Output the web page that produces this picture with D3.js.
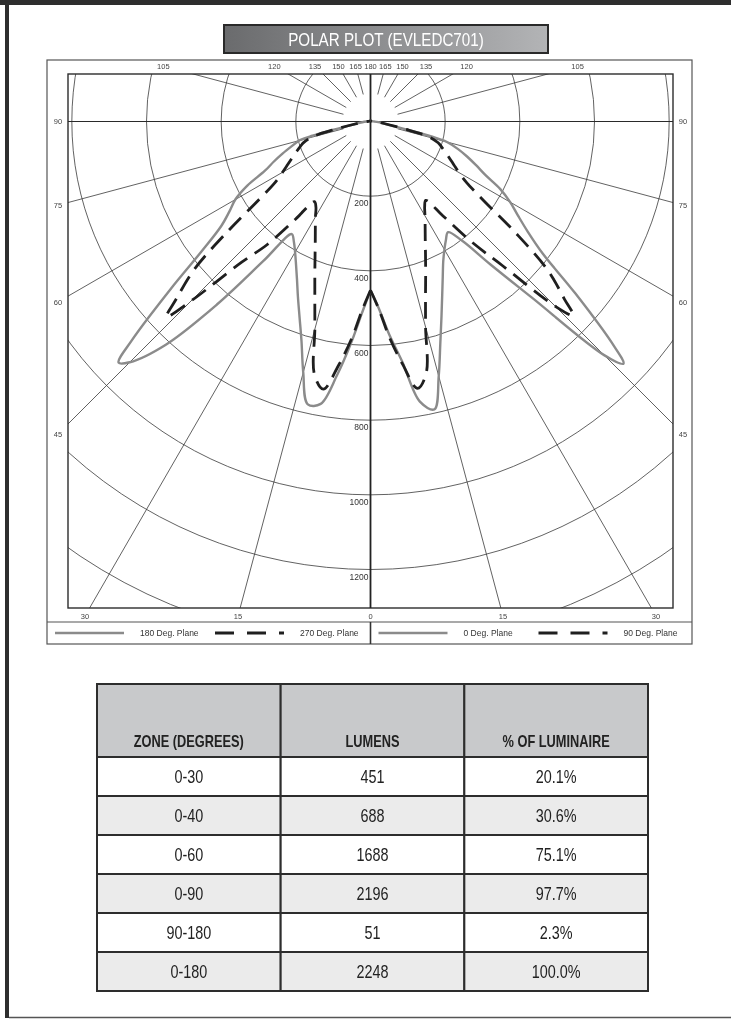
<!DOCTYPE html>
<html lang="en">
<head>
<meta charset="UTF-8">
<title>Polar Plot (EVLEDC701)</title>
<style>
  body { margin: 0; background: #fff; }
  svg { display: block; will-change: transform; }
</style>
</head>
<body>
<div id="chart"></div>
<script src="https://d3js.org/d3.v7.min.js"></script>
<script>
// vertical angle from nadir (deg) for every candela reading below
const angles = [0, 2.5, 5, 7.5, 10, 12.5, 15, 17.5, 20, 22.5, 25, 27.5, 30, 32.5, 35, 37.5, 40, 42.5, 45, 46.25,
  47.5, 50, 52.5, 55, 57.5, 60, 62.5, 65, 67.5, 70, 72.5, 75, 76.25, 77.5, 80, 85, 90, 95, 105, 120, 135, 150, 165, 180];

// candela per plane
const plane0 = [452, 500, 572, 648, 762, 790, 706, 622, 556, 502, 458, 422, 396, 376, 362, 402, 500, 640, 885, 938,
  876, 716, 582, 514, 468, 432, 392, 340, 306, 276, 246, 212, 168, 92, 46, 21, 10, 6, 4, 3, 2, 2, 2, 2];
const plane90 = [452, 502, 580, 655, 726, 690, 570, 490, 432, 385, 347, 317, 292, 270, 258, 318, 420, 525, 700, 752,
  705, 620, 490, 372, 306, 274, 252, 234, 218, 204, 190, 166, 142, 98, 50, 20, 9, 5, 3, 2, 2, 2, 2, 2];
const plane180 = [452, 512, 595, 685, 768, 776, 696, 615, 556, 508, 466, 432, 404, 382, 368, 470, 640, 810, 912, 934,
  866, 700, 568, 488, 448, 418, 372, 312, 280, 250, 222, 198, 160, 98, 48, 22, 11, 6, 4, 3, 2, 2, 2, 2];
const plane270 = [452, 505, 585, 660, 728, 694, 576, 496, 436, 388, 350, 320, 295, 272, 262, 330, 430, 512, 680, 757,
  708, 616, 478, 365, 302, 272, 250, 232, 216, 202, 188, 164, 140, 96, 50, 20, 9, 5, 3, 2, 2, 2, 2, 2];

// grid
const ringValues = [200, 400, 600, 800, 1000, 1200, 1400];
const ringLabels = [200, 400, 600, 800, 1000, 1200];
const spokeAngles = [15, 30, 45, 60, 75, 105, 120, 135, 150, 165];
const topLabels = [105, 120, 135, 150, 165];
const sideLabels = [90, 75, 60, 45];
const bottomLabels = [15, 30];

const legendNames = ["180 Deg. Plane", "270 Deg. Plane", "0 Deg. Plane", "90 Deg. Plane"];

// zonal lumen table
const tableHeaders = ["ZONE (DEGREES)", "LUMENS", "% OF LUMINAIRE"];
const zones = ["0-30", "0-40", "0-60", "0-90", "90-180", "0-180"];
const lumens = [451, 688, 1688, 2196, 51, 2248];
const percents = ["20.1%", "30.6%", "75.1%", "97.7%", "2.3%", "100.0%"];

const W = 731, H = 1026;
const FONT = "'Liberation Sans', Arial, sans-serif";
const SQUEEZE = 0.8; // no narrow face installed, so squeeze Liberation Sans

const svg = d3.select("#chart").append("svg")
  .attr("width", W)
  .attr("height", H);

// page edges
svg.append("rect").attr("x", 0).attr("y", 0).attr("width", W).attr("height", 5).attr("fill", "#2e2e2e");
svg.append("rect").attr("x", 5).attr("y", 0).attr("width", 4).attr("height", 1018).attr("fill", "#2e2e2e");
svg.append("line").attr("x1", 9).attr("x2", W).attr("y1", 1017.5).attr("y2", 1017.5)
  .attr("stroke", "#555").attr("stroke-width", 1.5);

// title
const defs = svg.append("defs");
const grad = defs.append("linearGradient").attr("id", "titleGrad")
  .attr("x1", 0).attr("x2", 1).attr("y1", 0).attr("y2", 0);
grad.append("stop").attr("offset", "0%").attr("stop-color", "#6a6b6d");
grad.append("stop").attr("offset", "100%").attr("stop-color", "#b3b4b6");

svg.append("rect")
  .attr("x", 224).attr("y", 25).attr("width", 324).attr("height", 28)
  .attr("fill", "url(#titleGrad)")
  .attr("stroke", "#2a2a2a").attr("stroke-width", 2);
svg.append("text")
  .attr("transform", `translate(386,46) scale(${SQUEEZE},1)`)
  .attr("text-anchor", "middle")
  .attr("font-family", FONT)
  .attr("font-size", "19px")
  .attr("fill", "#fff")
  .text("POLAR PLOT (EVLEDC701)");

// ---------- polar plot ----------
const box = { x0: 47, x1: 692, y0: 60, y1: 644 };
const frame = { x0: 68, x1: 673, y0: 74, y1: 608 };
const legendTop = 622;
const cx = 370.5, cy = 121.5;

const r = d3.scaleLinear().domain([0, 1200]).range([0, 448]);
const rad = d => d * Math.PI / 180;

// point at vertical angle a (from nadir), radius px, side -1 left / +1 right
function pt(a, px, side) {
  return [cx + side * px * Math.sin(rad(a)), cy + px * Math.cos(rad(a))];
}

defs.append("clipPath").attr("id", "frameClip")
  .append("rect")
  .attr("x", frame.x0).attr("y", frame.y0)
  .attr("width", frame.x1 - frame.x0).attr("height", frame.y1 - frame.y0);

svg.append("rect")
  .attr("x", box.x0).attr("y", box.y0)
  .attr("width", box.x1 - box.x0).attr("height", box.y1 - box.y0)
  .attr("fill", "none").attr("stroke", "#555").attr("stroke-width", 1.2);

const grid = svg.append("g").attr("clip-path", "url(#frameClip)");

grid.selectAll(".ring")
  .data(ringValues)
  .enter().append("circle")
  .attr("class", "ring")
  .attr("cx", cx).attr("cy", cy)
  .attr("r", d => r(d))
  .attr("fill", "none")
  .attr("stroke", "#3a3a3a")
  .attr("stroke-width", 0.8);

const spokes = [];
[-1, 1].forEach(side => spokeAngles.forEach(a => spokes.push({ a, side })));
grid.selectAll(".spoke")
  .data(spokes)
  .enter().append("line")
  .attr("class", "spoke")
  .attr("x1", d => pt(d.a, r(75), d.side)[0])
  .attr("y1", d => pt(d.a, r(75), d.side)[1])
  .attr("x2", d => pt(d.a, 900, d.side)[0])
  .attr("y2", d => pt(d.a, 900, d.side)[1])
  .attr("stroke", "#3a3a3a")
  .attr("stroke-width", 0.8);

// 90 deg line
grid.append("line")
  .attr("x1", frame.x0).attr("x2", frame.x1)
  .attr("y1", cy).attr("y2", cy)
  .attr("stroke", "#2a2a2a").attr("stroke-width", 1.1);

svg.append("rect")
  .attr("x", frame.x0).attr("y", frame.y0)
  .attr("width", frame.x1 - frame.x0).attr("height", frame.y1 - frame.y0)
  .attr("fill", "none").attr("stroke", "#2d2d2d").attr("stroke-width", 1.4);

// legend row
svg.append("line")
  .attr("x1", box.x0).attr("x2", box.x1)
  .attr("y1", legendTop).attr("y2", legendTop)
  .attr("stroke", "#555").attr("stroke-width", 1.2);

// 0-180 axis and the legend divider under it
svg.append("line")
  .attr("x1", cx).attr("x2", cx)
  .attr("y1", frame.y0).attr("y2", frame.y1)
  .attr("stroke", "#222").attr("stroke-width", 1.8);
svg.append("line")
  .attr("x1", cx).attr("x2", cx)
  .attr("y1", legendTop).attr("y2", box.y1)
  .attr("stroke", "#333").attr("stroke-width", 1.6);

// ring labels
svg.selectAll(".ringLabel")
  .data(ringLabels)
  .enter().append("text")
  .attr("class", "ringLabel")
  .attr("x", cx - 2)
  .attr("y", d => cy + r(d) + 10)
  .attr("text-anchor", "end")
  .attr("font-family", FONT)
  .attr("font-size", "8.5px")
  .attr("fill", "#333")
  .text(d => d);

// angle labels
const angLabels = [];
const topY = frame.y0 - 8, sideOff = 10, botY = frame.y1 + 8;
[-1, 1].forEach(side => {
  topLabels.forEach(a => {
    const t = (topY - cy) / Math.cos(rad(a));
    angLabels.push({ text: a, x: cx + side * t * Math.sin(rad(a)), y: topY });
  });
  sideLabels.forEach(a => {
    const xs = side < 0 ? frame.x0 - sideOff : frame.x1 + sideOff;
    const t = Math.abs(xs - cx) / Math.sin(rad(a));
    angLabels.push({ text: a, x: xs, y: cy + t * Math.cos(rad(a)) });
  });
  bottomLabels.forEach(a => {
    const t = (botY - cy) / Math.cos(rad(a));
    angLabels.push({ text: a, x: cx + side * t * Math.sin(rad(a)), y: botY });
  });
});
angLabels.push({ text: 180, x: cx, y: topY });
angLabels.push({ text: 0, x: cx, y: botY });

svg.selectAll(".angLabel")
  .data(angLabels)
  .enter().append("text")
  .attr("class", "angLabel")
  .attr("x", d => d.x)
  .attr("y", d => d.y)
  .attr("dy", "0.35em")
  .attr("text-anchor", "middle")
  .attr("font-family", FONT)
  .attr("font-size", "7.5px")
  .attr("fill", "#444")
  .text(d => d.text);

// candela curves
const line = d3.line().curve(d3.curveCatmullRom.alpha(0.5));
const planes = [
  { vals: plane180, side: -1, dashed: false },
  { vals: plane0, side: 1, dashed: false },
  { vals: plane270, side: -1, dashed: true },
  { vals: plane90, side: 1, dashed: true }
];

const GRAY = "#8b8b8b", DARK = "#1f1f1f";

svg.append("g").attr("clip-path", "url(#frameClip)")
  .selectAll(".curve")
  .data(planes)
  .enter().append("path")
  .attr("class", "curve")
  .attr("d", p => line(angles.map((a, i) => pt(a, r(p.vals[i]), p.side))))
  .attr("fill", "none")
  .attr("stroke", p => p.dashed ? DARK : GRAY)
  .attr("stroke-width", p => p.dashed ? 2.8 : 2.4)
  .attr("stroke-dasharray", p => p.dashed ? "17,9" : null)
  .attr("stroke-linejoin", "round");

// legend
const legY = (legendTop + box.y1) / 2;
const legItems = legendNames.map((name, i) => {
  const half = i < 2 ? box.x0 : cx;
  const lx = half + 8 + (i % 2) * 160;
  return { name, lx, dashed: i % 2 === 1 };
});
const leg = svg.append("g");
leg.selectAll("line")
  .data(legItems)
  .enter().append("line")
  .attr("x1", d => d.lx).attr("x2", d => d.lx + 69)
  .attr("y1", legY).attr("y2", legY)
  .attr("stroke", d => d.dashed ? DARK : GRAY)
  .attr("stroke-width", d => d.dashed ? 2.8 : 2.4)
  .attr("stroke-dasharray", d => d.dashed ? "19,13" : null);
leg.selectAll("text")
  .data(legItems)
  .enter().append("text")
  .attr("x", d => d.lx + 69 + 16)
  .attr("y", legY)
  .attr("dy", "0.35em")
  .attr("font-family", FONT)
  .attr("font-size", "8.5px")
  .attr("fill", "#333")
  .text(d => d.name);

// ---------- lumen table ----------
const tab = { x0: 97, x1: 648, y0: 684, head: 757, y1: 991 };
const col = d3.scaleBand().domain(d3.range(tableHeaders.length)).range([tab.x0, tab.x1]);
const row = d3.scaleBand().domain(zones).range([tab.head, tab.y1]);

const tbl = svg.append("g");

tbl.selectAll(".hcell")
  .data(tableHeaders)
  .enter().append("rect")
  .attr("x", (d, i) => col(i))
  .attr("y", tab.y0)
  .attr("width", col.bandwidth())
  .attr("height", tab.head - tab.y0)
  .attr("fill", "#c8c9cb")
  .attr("stroke", "#2d2d2d")
  .attr("stroke-width", 2);

tbl.selectAll(".htext")
  .data(tableHeaders)
  .enter().append("text")
  .attr("transform", (d, i) => `translate(${col(i) + col.bandwidth() / 2},${tab.head - 10}) scale(${SQUEEZE},1)`)
  .attr("text-anchor", "middle")
  .attr("font-family", FONT)
  .attr("font-weight", "bold")
  .attr("font-size", "16px")
  .attr("fill", "#222")
  .text(d => d);

const cells = [];
zones.forEach((z, i) => {
  [z, lumens[i], percents[i]].forEach((v, j) => cells.push({ z, i, j, v }));
});

tbl.selectAll(".cell")
  .data(cells)
  .enter().append("rect")
  .attr("x", d => col(d.j))
  .attr("y", d => row(d.z))
  .attr("width", col.bandwidth())
  .attr("height", row.bandwidth())
  .attr("fill", d => d.i % 2 ? "#ebebeb" : "#fff")
  .attr("stroke", "#2d2d2d")
  .attr("stroke-width", 2);

tbl.selectAll(".ctext")
  .data(cells)
  .enter().append("text")
  .attr("transform", d => `translate(${col(d.j) + col.bandwidth() / 2},${row(d.z) + row.bandwidth() / 2 + 6.5}) scale(${SQUEEZE},1)`)
  .attr("text-anchor", "middle")
  .attr("font-family", FONT)
  .attr("font-size", "18px")
  .attr("fill", "#222")
  .text(d => d.v);
</script>
</body>
</html>
